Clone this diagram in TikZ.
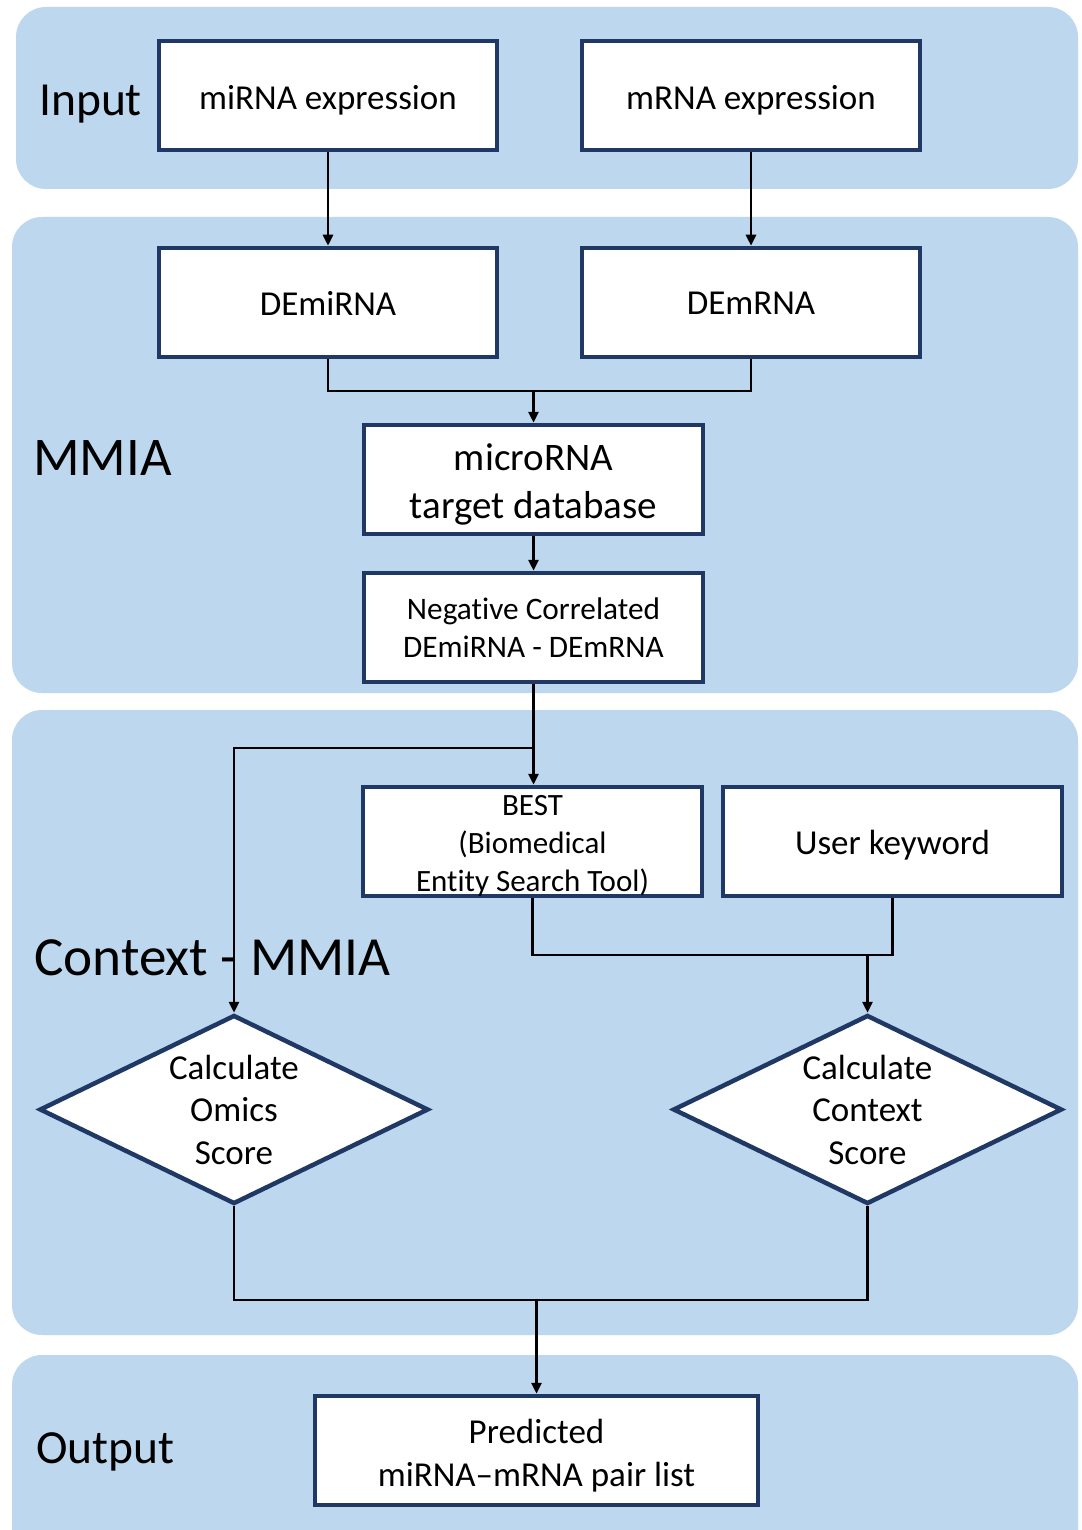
\documentclass[tikz,border=0pt]{standalone}
\usepackage{fontspec}
\setmainfont{Carlito}[Ligatures=NoCommon]
\usetikzlibrary{arrows.meta,shapes.geometric}
\definecolor{panelblue}{RGB}{189,215,238}
\definecolor{navy}{RGB}{31,56,100}
\tikzset{
  panel/.style={fill=panelblue, draw=none, rounded corners=30pt},
  box/.style={draw=navy, line width=4.5pt, fill=white, minimum width=338pt, minimum height=109pt,
    inner sep=0pt},
  txt/.style={align=center, inner sep=0pt, font=\fontsize{35}{42}\selectfont},
  dia/.style={draw=navy, line width=4.5pt, fill=white, diamond, minimum width=389pt, minimum height=189pt, inner sep=0pt},
  diatext/.style={align=center, inner sep=0pt, font=\fontsize{35}{42.5}\selectfont},
  seclabel/.style={anchor=base west, inner sep=0pt},
  conn/.style={line width=2.8pt, black},
  arr/.style={conn, -{Triangle[length=11pt,width=10pt]}},
}
\begin{document}
\begin{tikzpicture}[x=1pt,y=-1pt]
\useasboundingbox (0,0) rectangle (1081,1530);
\fill[white] (0,0) rectangle (1081,1530);
% panels
\fill[panel] (16,7) rectangle (1078,189);
\fill[panel] (12,217) rectangle (1078,693);
\fill[panel] (12,710) rectangle (1078,1335);
\fill[panel] (12,1355) rectangle (1078,1560);
% section labels
\node[seclabel, font=\fontsize{47.5}{52}\selectfont] (lin) at (39,116) {Input};
\node[seclabel, font=\fontsize{54.5}{60}\selectfont] (lmm) at (33,475) {MMIA};
\node[seclabel, font=\fontsize{55.2}{60}\selectfont] (lctx) at (34,975) {Context - MMIA};
\node[seclabel, font=\fontsize{47.5}{52}\selectfont] (lout) at (36,1463) {Output};
% boxes
\node[box] (mirexp) at (328,95.5) {};
\node[txt] (mirexpt) at ([yshift=-5pt]mirexp.center) {miRNA expression};
\node[box] (mrexp) at (751,95.5) {};
\node[txt] (mrexpt) at ([yshift=-4.5pt]mrexp.center) {mRNA expression};
\node[box] (demir) at (328,302.5) {};
\node[txt] (demirt) at ([yshift=-1pt]demir.center) {DEmiRNA};
\node[box] (demr) at (751,302.5) {};
\node[txt] (demrt) at ([yshift=-1pt]demr.center) {DEmRNA};
\node[box, minimum width=339pt] (db) at (533.5,479.5) {};
\node[txt, font=\fontsize{39}{48}\selectfont] (dbt) at ([yshift=-5pt]db.center) {microRNA\\target database};
\node[box, minimum width=339pt] (neg) at (533.5,627.5) {};
\node[txt, font=\fontsize{31.3}{38}\selectfont] (negt) at ([yshift=-0.5pt]neg.center) {Negative Correlated\\DEmiRNA - DEmRNA};
\node[box, minimum width=339pt] (best) at (532.5,841.5) {};
\node[txt, font=\fontsize{31}{38}\selectfont] (bestt) at ([yshift=-4pt]best.center) {BEST\\(Biomedical\\Entity Search Tool)};
\node[box, minimum width=339pt] (user) at (892.5,841.5) {};
\node[txt] (usert) at ([yshift=-4pt]user.center) {User keyword};
\node[dia] (omics) at (234,1109.5) {};
\node[diatext] (omicst) at (omics.center) {Calculate\\Omics\\Score};
\node[dia] (ctx) at (867.5,1109.5) {};
\node[diatext] (ctxt) at (ctx.center) {Calculate\\Context\\Score};
\node[box, minimum width=443pt] (pred) at (536.5,1450.5) {};
\node[txt, font=\fontsize{35}{43}\selectfont] (predt) at ([yshift=-5pt]pred.center) {Predicted\\miRNA–mRNA pair list};
% connectors
\coordinate (j1) at (533.5,391);
\coordinate (j2) at (533.5,748);
\coordinate (j3) at (867.5,955);
\coordinate (j4) at (536.5,1300);
\draw[arr] (mirexp.south) -- (demir.north);
\draw[arr] (mrexp.south) -- (demr.north);
\draw[conn] (demir.south) -- (demir.south |- j1) -- (demr.south |- j1) -- (demr.south);
\draw[arr] (j1) -- (db.north);
\draw[arr] (db.south) -- (neg.north);
\draw[arr] (neg.south) -- (neg.south |- best.north);
\draw[arr] (j2) -| (omics.north);
\draw[conn] (best.south) -- (best.south |- j3) -- (user.south |- j3) -- (user.south);
\draw[arr] (j3) -- (ctx.north);
\draw[conn] (omics.south) -- (omics.south |- j4) -- (ctx.south |- j4) -- (ctx.south);
\draw[arr] (j4) -- (pred.north);
\end{tikzpicture}
\end{document}
